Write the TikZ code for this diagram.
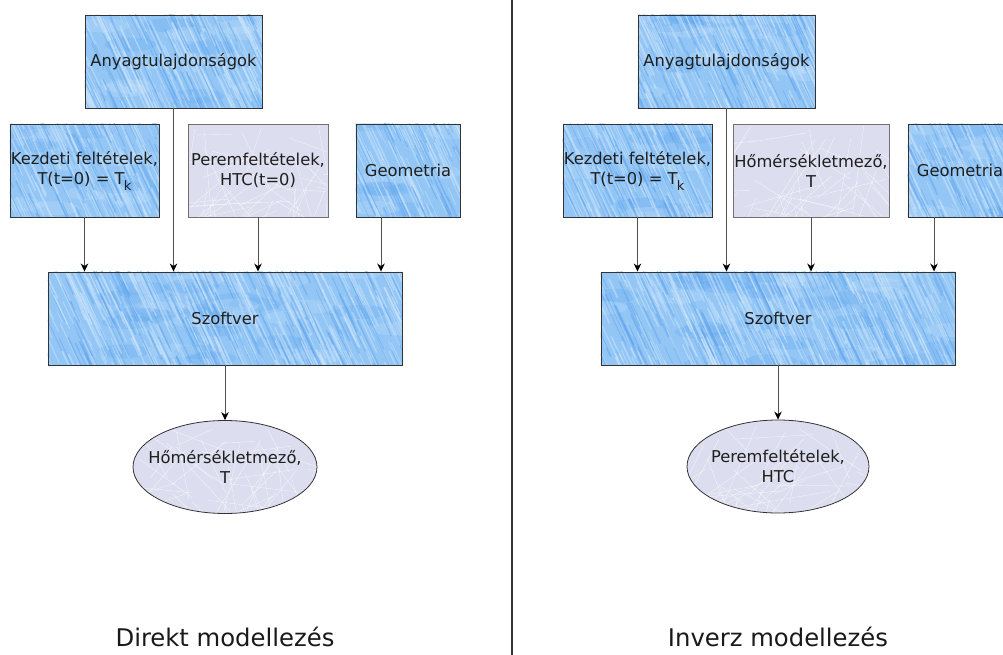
\documentclass[tikz,border=0pt]{standalone}
\usepackage{fontspec}
\setmainfont{DejaVu Sans}
\usetikzlibrary{arrows.meta,shapes.geometric,calc}

\definecolor{rainbase}{HTML}{93C6F5}
\definecolor{rainlight}{HTML}{D2E8FD}
\definecolor{raindark}{HTML}{5CA3EE}
\definecolor{icebase}{HTML}{DCDDEE}
\definecolor{boxline}{HTML}{333333}
\definecolor{iceline}{HTML}{707070}
\definecolor{wire}{HTML}{505050}

\pgfdeclarelayer{background}
\pgfsetlayers{background,main}

% streaky blue texture: #1 clip path, #2 origin, #3 width, #4 height, #5 streaks
\newcommand\rainfill[5]{%
  \begin{scope}
    \clip #1;
    \fill[rainbase] #1;
    \begin{scope}[shift={(#2)}]
      % soft darker and lighter patches
      \pgfmathtruncatemacro\rnB{#3/12}
      \foreach \rnK in {1,...,\rnB}{
        \pgfmathsetmacro\rnX{rnd*#3}
        \pgfmathsetmacro\rnY{rnd*#4}
        \pgfmathsetmacro\rnS{rnd}
        \ifdim\rnS pt<0.5pt \def\rnC{rainlight}\else\def\rnC{raindark}\fi
        \fill[\rnC, opacity=0.22] (\rnX,\rnY) ellipse [x radius=26, y radius=7];
      }
      \foreach \rnK in {1,...,#5}{
        \pgfmathsetmacro\rnX{rnd*(#3+40)-30}
        \pgfmathsetmacro\rnY{rnd*(#4+60)-50}
        \pgfmathsetmacro\rnL{18+rnd*50}
        \pgfmathsetmacro\rnW{0.5+rnd*1.4}
        \pgfmathsetmacro\rnS{rnd}
        \ifdim\rnS pt<0.62pt \def\rnC{rainlight}\else\def\rnC{raindark}\fi
        \draw[\rnC, line width=\rnW pt, opacity=0.45, line cap=round]
          (\rnX,\rnY) -- ++(0.42*\rnL,0.9*\rnL);
      }
    \end{scope}
  \end{scope}}

% pale cracked-ice texture: same arguments
\newcommand\icefill[5]{%
  \begin{scope}
    \clip #1;
    \fill[icebase] #1;
    \begin{scope}[shift={(#2)}]
      \foreach \rnK in {1,...,#5}{
        \pgfmathsetmacro\rnX{rnd*#3}
        \pgfmathsetmacro\rnY{rnd*#4}
        \pgfmathsetmacro\rnL{30+rnd*70}
        \pgfmathsetmacro\rnA{rnd*180}
        \draw[white, line width=0.45pt, opacity=0.6]
          (\rnX,\rnY) -- ++(\rnA:\rnL);
      }
    \end{scope}
  \end{scope}}

\tikzset{
  txt/.style={font=\fontsize{16.3}{20}\selectfont, text=black!88, align=center, inner sep=0pt},
  bluebox/.style={txt, rectangle, draw=boxline, line width=0.9pt, minimum height=93pt},
  icebox/.style={txt, rectangle, draw=iceline, line width=0.9pt, minimum height=93pt},
  iceoval/.style={txt, ellipse, draw=boxline, line width=0.8pt, minimum height=93pt, inner xsep=-12pt},
  feed/.style={draw=wire, line width=1pt, -{Stealth[length=8pt,width=7.5pt,inset=2.5pt,black]}},
  caption/.style={font=\fontsize{24.3}{29}\selectfont, text=black!90, anchor=base, inner sep=0pt}
}

\newcommand\Tsub{T\kern-0.6pt\raisebox{-6pt}{\fontsize{13}{13}\selectfont k}}

\begin{document}
\begin{tikzpicture}[x=1pt,y=-1pt]
\pgfmathsetseed{7}
\useasboundingbox (0,0) rectangle (1003,655);

% separator between the two schemes
\draw[black!80, line width=1.3pt] (512,0) -- (512,655);

% ---- direct modelling ----
\node[bluebox, minimum width=177pt] (anyL) at (173.5,61.5) {Anyagtulajdonságok};
\node[bluebox, minimum width=149pt] (kezL) at (84.5,170.5) {Kezdeti feltételek,\\ T(t=0) = \Tsub};
\node[icebox,  minimum width=140pt] (perL) at (258,170.5) {Peremfeltételek,\\ HTC(t=0)};
\node[bluebox, minimum width=104pt] (geoL) at (408,170.5) {Geometria};
\node[bluebox, minimum width=354pt] (szoL) at (225,318.5) {Szoftver};
\node[iceoval, minimum width=184pt] (homL) at (225,467) {Hőmérsékletmező,\\ T};
\node[caption] (titL) at (225,646) {Direkt modellezés};

\draw[feed] (kezL.south) -- (kezL.south |- szoL.north);
\draw[feed] (anyL.south) -- (anyL.south |- szoL.north);
\draw[feed] (perL.south) -- (perL.south |- szoL.north);
\draw[feed] ([xshift=-27pt]geoL.south) -- ([xshift=-27pt]geoL.south |- szoL.north);
\draw[feed] (szoL.south) -- (homL.north);

% ---- inverse modelling ----
\node[bluebox, minimum width=177pt] (anyR) at (726.5,61.5) {Anyagtulajdonságok};
\node[bluebox, minimum width=149pt] (kezR) at (637.5,170.5) {Kezdeti feltételek,\\ T(t=0) = \Tsub};
\node[icebox,  minimum width=156pt] (homR) at (811,170.5) {Hőmérsékletmező,\\ T};
\node[bluebox, minimum width=104pt] (geoR) at (960,170.5) {Geometria};
\node[bluebox, minimum width=354pt] (szoR) at (778,318.5) {Szoftver};
\node[iceoval, minimum width=182pt] (perR) at (778,466.5) {Peremfeltételek,\\ HTC};
\node[caption] (titR) at (778,646) {Inverz modellezés};

\draw[feed] (kezR.south) -- (kezR.south |- szoR.north);
\draw[feed] (anyR.south) -- (anyR.south |- szoR.north);
\draw[feed] (homR.south) -- (homR.south |- szoR.north);
\draw[feed] ([xshift=-26pt]geoR.south) -- ([xshift=-26pt]geoR.south |- szoR.north);
\draw[feed] (szoR.south) -- (perR.north);

% ---- textures behind the shapes ----
\begin{pgfonlayer}{background}
  \rainfill{(anyL.north west) rectangle (anyL.south east)}{anyL.north west}{177}{93}{330}
  \rainfill{(kezL.north west) rectangle (kezL.south east)}{kezL.north west}{149}{93}{280}
  \rainfill{(geoL.north west) rectangle (geoL.south east)}{geoL.north west}{104}{93}{200}
  \rainfill{(szoL.north west) rectangle (szoL.south east)}{szoL.north west}{354}{93}{620}
  \icefill{(perL.north west) rectangle (perL.south east)}{perL.north west}{140}{93}{45}
  \icefill{(homL.center) ellipse [x radius=92, y radius=46.5]}{homL.west |- homL.north}{184}{93}{50}

  \rainfill{(anyR.north west) rectangle (anyR.south east)}{anyR.north west}{177}{93}{330}
  \rainfill{(kezR.north west) rectangle (kezR.south east)}{kezR.north west}{149}{93}{280}
  \rainfill{(geoR.north west) rectangle (geoR.south east)}{geoR.north west}{104}{93}{200}
  \rainfill{(szoR.north west) rectangle (szoR.south east)}{szoR.north west}{354}{93}{620}
  \icefill{(homR.north west) rectangle (homR.south east)}{homR.north west}{156}{93}{48}
  \icefill{(perR.center) ellipse [x radius=91, y radius=46.5]}{perR.west |- perR.north}{182}{93}{50}
\end{pgfonlayer}
\end{tikzpicture}
\end{document}
